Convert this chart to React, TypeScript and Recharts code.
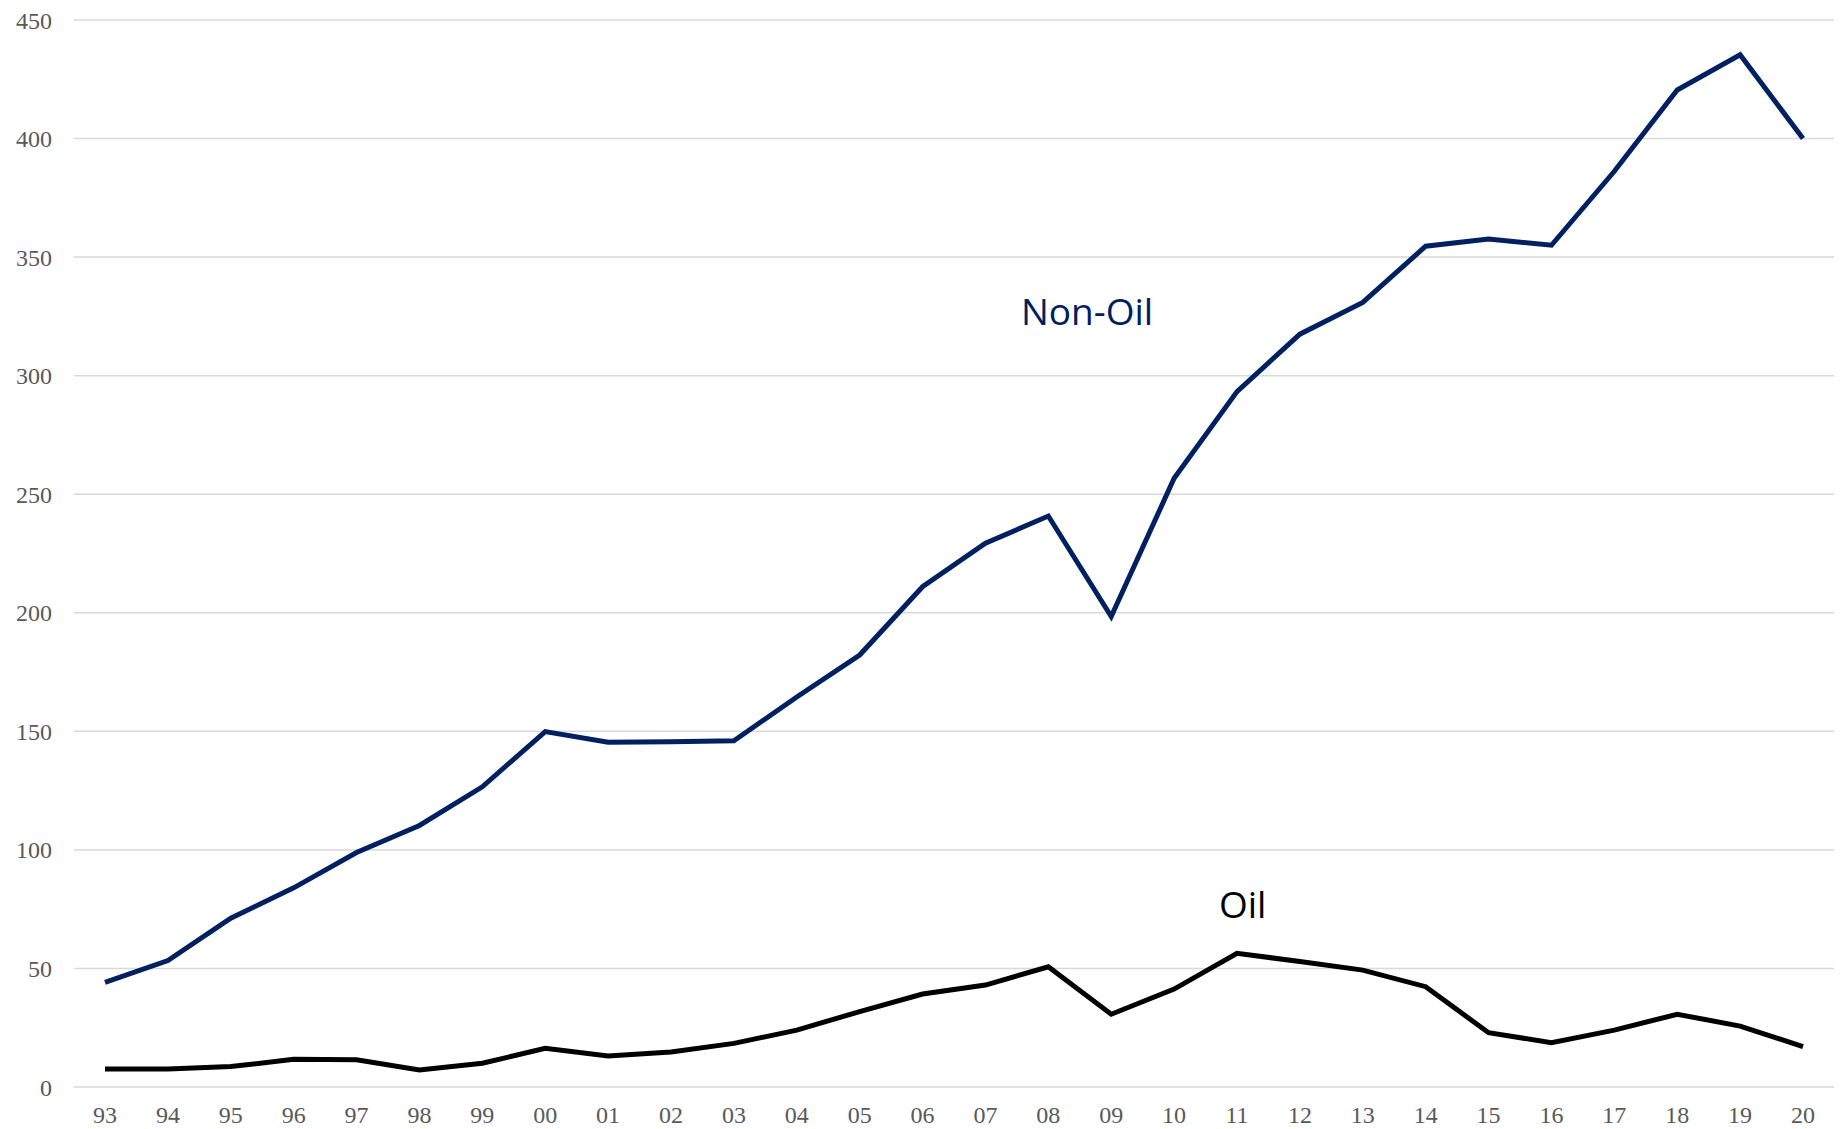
import { LineChart, Line, XAxis, YAxis, CartesianGrid } from 'recharts'

// two-digit years, 1993 to 2020
const years = ['93', '94', '95', '96', '97', '98', '99', '00', '01', '02', '03', '04', '05', '06',
  '07', '08', '09', '10', '11', '12', '13', '14', '15', '16', '17', '18', '19', '20']

const nonOil = [44.1, 53.3, 71.2, 84, 98.9, 110.3, 126.6, 149.9, 145.4, 145.6, 146, 164.5, 182.2, 211,
  229.3, 240.8, 198.4, 256.7, 293.3, 317.5, 330.9, 354.6, 357.6, 355, 386.2, 420.5, 435.3, 400]

const oil = [7.6, 7.6, 8.6, 11.7, 11.5, 7.2, 10, 16.3, 13.1, 14.8, 18.4, 24, 31.8, 39.2,
  43, 50.7, 30.7, 41.3, 56.4, 52.9, 49.3, 42.3, 22.9, 18.7, 24, 30.7, 25.7, 17]

const yTicks = [0, 50, 100, 150, 200, 250, 300, 350, 400, 450]

const data = years.map((year, i) => ({ year, nonOil: nonOil[i], oil: oil[i] }))

const tickStyle = { fill: '#595959', fontSize: 24, fontFamily: '"Liberation Serif", "Times New Roman", serif' }

export default function App() {
  return (
    <div style={{ position: 'absolute', left: 0, top: 0, width: 1841, height: 1129, background: '#fff' }}>
      <LineChart
        width={1841}
        height={1129}
        data={data}
        margin={{ top: 20, right: 7, bottom: 0, left: 0 }}
      >
        <CartesianGrid vertical={false} stroke="#d9d9d9" strokeWidth={1.5} />
        <XAxis
          dataKey="year"
          height={42}
          padding={{ left: 31, right: 31 }}
          axisLine={false}
          tickLine={false}
          tickSize={0}
          tickMargin={19}
          tick={tickStyle}
          interval={0}
        />
        <YAxis
          width={74}
          domain={[0, 450]}
          ticks={yTicks}
          axisLine={false}
          tickLine={false}
          tickSize={0}
          tickMargin={22}
          tick={tickStyle}
        />
        <Line
          type="linear"
          dataKey="nonOil"
          stroke="#002060"
          strokeWidth={5}
          dot={false}
          isAnimationActive={false}
        />
        <Line
          type="linear"
          dataKey="oil"
          stroke="#000000"
          strokeWidth={5}
          dot={false}
          isAnimationActive={false}
        />
      </LineChart>
      <svg width={1841} height={1129} style={{ position: 'absolute', left: 0, top: 0, pointerEvents: 'none' }}>
        <text x={1021} y={325} fontSize={37} fill="#002060" fontFamily='"Open Sans", sans-serif'>Non-Oil</text>
        <text x={1219} y={918} fontSize={37} fill="#000000" fontFamily='"Open Sans", sans-serif'>Oil</text>
      </svg>
    </div>
  )
}
